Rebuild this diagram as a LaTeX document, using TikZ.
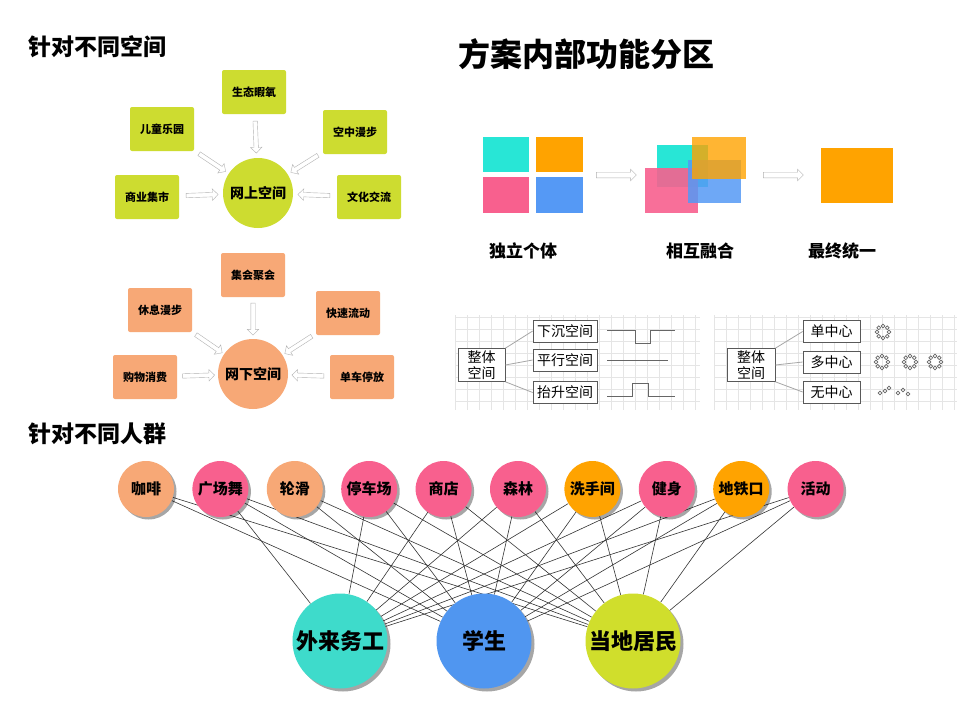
\documentclass[tikz,border=0pt]{standalone}
\usepackage{fontspec}
\setmainfont{Noto Sans CJK SC}
\usetikzlibrary{positioning,shadows,shapes.arrows}

\definecolor{lime}{RGB}{205,220,48}
\definecolor{salmon}{RGB}{247,168,118}
\definecolor{rose}{RGB}{248,96,142}
\definecolor{amber}{RGB}{255,163,0}
\definecolor{aqua}{RGB}{40,230,214}
\definecolor{sky}{RGB}{85,153,245}
\definecolor{mint}{RGB}{62,219,203}
\definecolor{azure}{RGB}{80,150,240}
\definecolor{olive}{RGB}{208,222,44}

\pgfdeclarelayer{bg}
\pgfsetlayers{bg,main}

% ring of small circles
\newcommand\ringmark[1]{%
    \foreach \k in {0,45,...,315}
        \draw[sign, line width=0.6pt] (#1) ++(\k:6pt) circle (1.9pt);
}

\begin{document}
\begin{tikzpicture}[%
    x=1pt, y=-1pt,
    every node/.style={font=\bfseries},
    title/.style={anchor=west, font=\bfseries\fontsize{23}{26}\selectfont},
    tag/.style={rectangle, rounded corners=2pt, minimum width=64pt,
        minimum height=44pt, inner sep=0pt,
        font=\bfseries\fontsize{11}{13}\selectfont},
    hub/.style={circle, minimum size=70pt, inner sep=0pt,
        font=\bfseries\fontsize{14}{16}\selectfont},
    hollow/.style={single arrow, draw=gray!60, fill=white, inner xsep=0pt,
        inner ysep=2pt, single arrow head extend=3.5pt,
        minimum height=32pt, sloped, allow upside down},
    block/.style={rectangle, inner sep=0pt},
    caption/.style={font=\bfseries\fontsize{17}{20}\selectfont},
    gridbox/.style={rectangle, draw=black!65, line width=0.7pt, fill=white,
        inner sep=2pt, minimum height=22pt,
        font=\fontsize{14}{16}\selectfont},
    branch/.style={draw=gray!70, line width=0.8pt},
    sign/.style={draw=black!60, line width=0.8pt},
    spot/.style={circle, minimum size=56pt, inner sep=0pt,
        font=\bfseries\fontsize{15}{17}\selectfont,
        drop shadow={shadow xshift=2.5pt, shadow yshift=-2.5pt,
            fill=black, opacity=0.35}},
    crowd/.style={circle, minimum size=95pt, inner sep=0pt,
        font=\bfseries\fontsize{22}{26}\selectfont,
        drop shadow={shadow xshift=3pt, shadow yshift=-3pt,
            fill=black, opacity=0.35}},
    link/.style={draw=black!80, line width=0.6pt}
]
\useasboundingbox (0,0) rectangle (960,720);
\begin{pgfonlayer}{bg}
\fill[white] (0,0) rectangle (960,720);
\end{pgfonlayer}

% headings
\node[title] (head1) at (25,47) {针对不同空间};
\node[title, font=\bfseries\fontsize{32}{35}\selectfont] (head2) at (455,54) {方案内部功能分区};
\node[title] (head3) at (25,434) {针对不同人群};

% online space
\node[hub, fill=lime] (up) at (258,193) {网上空间};
\node[tag, fill=lime] (eco) at (254,92) {生态暇氧};
\node[tag, fill=lime] (kids) at (162,129) {儿童乐园};
\node[tag, fill=lime] (walk) at (355,132) {空中漫步};
\node[tag, fill=lime] (market) at (147,197) {商业集市};
\node[tag, fill=lime] (culture) at (369,197) {文化交流};
\foreach \s in {eco,kids,walk,market,culture}
    \path (\s) -- node[hollow] {} (up);

% offline space
\node[hub, fill=salmon] (down) at (253,374) {网下空间};
\node[tag, fill=salmon] (meet) at (253,275) {集会聚会};
\node[tag, fill=salmon] (rest) at (160,310) {休息漫步};
\node[tag, fill=salmon] (flow) at (348,313) {快速流动};
\node[tag, fill=salmon] (buy) at (145,377) {购物消费};
\node[tag, fill=salmon] (bike) at (362,377) {单车停放};
\foreach \s in {meet,rest,flow,buy,bike}
    \path (\s) -- node[hollow] {} (down);

% separate blocks
\node[block, fill=aqua, minimum width=46pt, minimum height=35pt] (c1) at (506,154.5) {};
\node[block, fill=amber, minimum width=47pt, minimum height=35pt] (o1) at (559.5,154.5) {};
\node[block, fill=rose, minimum width=46pt, minimum height=36pt] (p1) at (506,195) {};
\node[block, fill=sky, minimum width=47pt, minimum height=36pt] (b1) at (559.5,195) {};

% merged blocks
\node[block, fill=aqua, minimum width=51pt, minimum height=42pt] (c2) at (682.5,166) {};
\node[block, fill=rose, fill opacity=0.9, minimum width=53pt, minimum height=45pt] (p2) at (671.5,190.5) {};
\node[block, fill=sky, fill opacity=0.85, minimum width=53pt, minimum height=43pt] (b2) at (714.5,181.5) {};
\node[block, fill=amber, fill opacity=0.8, minimum width=54pt, minimum height=42pt] (o2) at (719,158) {};

% one block
\node[block, fill=amber, minimum width=72pt, minimum height=55pt] (o3) at (857,175.5) {};

\coordinate (step1a) at (590,175);
\coordinate (step1b) at (640,175);
\coordinate (step2a) at (757,175);
\coordinate (step2b) at (807,175);
\path (step1a) -- node[hollow, minimum height=40pt, inner ysep=2.6pt, single arrow head extend=3pt] {} (step1b);
\path (step2a) -- node[hollow, minimum height=40pt, inner ysep=2.6pt, single arrow head extend=3pt] {} (step2b);

\node[caption] (cap1) at (523,251) {独立个体};
\node[caption] (cap2) at (700,251) {相互融合};
\node[caption] (cap3) at (842,251) {最终统一};

% grid panels
\foreach \x in {455,467,...,695}
    \draw[gray!20, line width=0.4pt] (\x,315) -- (\x,410);
\foreach \y in {317,329,...,409}
    \draw[gray!20, line width=0.4pt] (455,\y) -- (700,\y);
\foreach \x in {714,726,...,954}
    \draw[gray!20, line width=0.4pt] (\x,315) -- (\x,410);
\foreach \y in {317,329,...,409}
    \draw[gray!20, line width=0.4pt] (714,\y) -- (957,\y);

% height levels
\node[gridbox, align=center, minimum width=47pt] (whole1) at (481.5,365) {整体\\空间};
\node[gridbox, minimum width=64pt] (sink) at (565,331) {下沉空间};
\node[gridbox, minimum width=64pt] (level) at (565,360) {平行空间};
\node[gridbox, minimum width=64pt] (lift) at (565,392.5) {抬升空间};
\draw[branch] (whole1.north east) -- (sink.west);
\draw[branch] (whole1.east) -- (level.west);
\draw[branch] (whole1.south east) -- (lift.west);

\draw[sign] (607,330) -- (635,330) -- (635,343) -- (650,343) -- (650,330) -- (675,330);
\draw[sign] (607,360) -- (668,360);
\draw[sign] (607,396) -- (632,396) -- (632,383) -- (648,383) -- (648,396) -- (675,396);

% centres
\node[gridbox, align=center, minimum width=48pt] (whole2) at (751,365) {整体\\空间};
\node[gridbox, minimum width=57pt] (single) at (831.5,331.5) {单中心};
\node[gridbox, minimum width=57pt] (multi) at (831.5,362) {多中心};
\node[gridbox, minimum width=57pt] (none) at (831.5,392) {无中心};
\draw[branch] (whole2.north east) -- (single.west);
\draw[branch] (whole2.east) -- (multi.west);
\draw[branch] (whole2.south east) -- (none.west);

\ringmark{883,332}
\ringmark{882,362}
\ringmark{910,362}
\ringmark{935,362}
\foreach \p in {{880,393},{885,391},{889,388},{898,393},{903,390},{908,394}}
    \draw[sign, line width=0.6pt] (\p) circle (1.9pt);

% places
\foreach \name/\txt/\col [count=\i from 0] in {cafe/咖啡/salmon,
        dance/广场舞/rose, skate/轮滑/salmon, park/停车场/rose,
        shop/商店/rose, wood/森林/rose, wc/洗手间/amber, gym/健身/rose,
        metro/地铁口/amber, event/活动/rose}
    \node[spot, fill=\col] (\name) at (146+74.4*\i,489) {\txt};

% people
\node[crowd, fill=mint] (worker) at (340,641) {外来务工};
\node[crowd, fill=azure] (student) at (484,641) {学生};
\node[crowd, fill=olive] (local) at (633,641) {当地居民};

% who goes where
\begin{pgfonlayer}{bg}
\foreach \a in {cafe,dance,skate,park,shop,wood,wc,gym,metro,event}
    \draw[link] (\a) -- (student) (\a) -- (local);
\foreach \a in {dance,park,shop,wood,wc,gym,metro,event}
    \draw[link] (\a) -- (worker);
\end{pgfonlayer}

\end{tikzpicture}
\end{document}
